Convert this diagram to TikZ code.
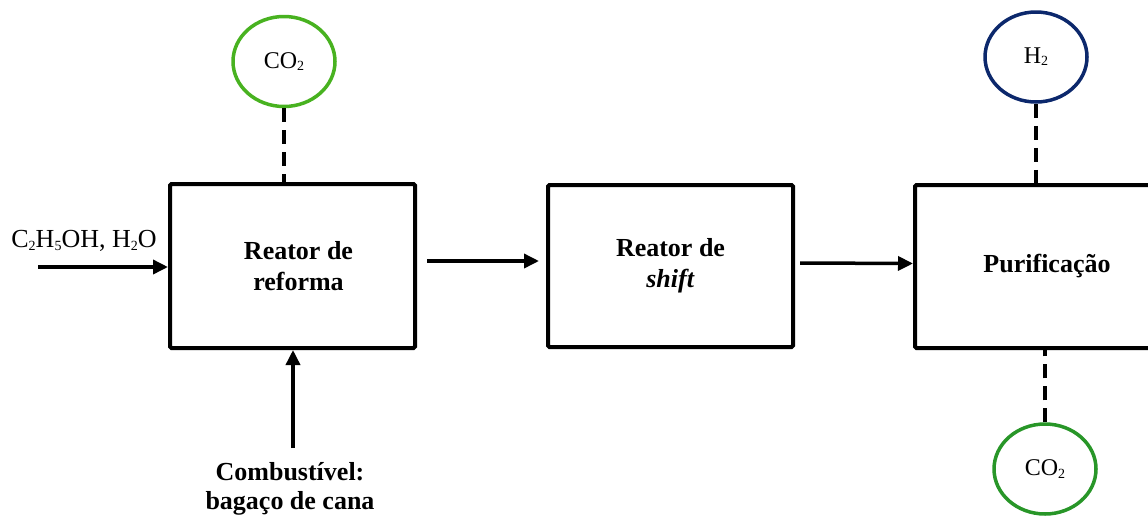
\documentclass[tikz,border=0pt]{standalone}
\usepackage{fontspec}
\setmainfont{Liberation Serif}
\usetikzlibrary{arrows.meta,shapes.geometric}
\definecolor{cogreen}{RGB}{72,178,32}
\definecolor{cogreendk}{RGB}{40,150,40}
\definecolor{hnavy}{RGB}{12,40,108}
\newcommand{\sbs}[1]{\raisebox{-0.2ex}{\fontsize{14}{14}\selectfont #1}}
\tikzset{
  procbox/.style={draw=black, line width=4pt, rounded corners=1.5pt, minimum width=245pt, minimum height=164pt, align=center, font=\fontsize{26}{31}\selectfont\bfseries, inner sep=0pt},
  gasell/.style={ellipse, line width=3.5pt, minimum width=102pt, minimum height=90pt, inner sep=0pt, font=\fontsize{24}{28}\selectfont},
  arr/.style={line width=3.5pt, -{Triangle[length=15pt,width=14pt]}},
  dashln/.style={line width=4pt, dash pattern=on 14pt off 8pt},
  lab/.style={align=center, inner sep=0pt},
}
\begin{document}
\begin{tikzpicture}[x=1pt,y=-1pt]
\useasboundingbox (0,0) rectangle (1148,517);
\clip (0,0) rectangle (1148,517);
% boxes
\node[procbox] (b1) at (292.5,266) {\hspace*{12pt}Reator de\\\hspace*{12pt}reforma};
\node[procbox, minimum height=162pt] (b2) at (670.5,266) {Reator de\\\textit{shift}};
\node[procbox, minimum width=264pt, minimum height=163pt] (b3) at (1047,266.5) {Purificação};
% gas ellipses
\node[gasell, draw=cogreen] (co2a) at (284,61.5) {CO\sbs{2}};
\node[gasell, draw=hnavy] (h2) at (1036,57) {H\sbs{2}};
\node[gasell, draw=cogreendk] (co2b) at (1045,469) {CO\sbs{2}};
% labels
\node[lab, font=\fontsize{26}{30}\selectfont] (feed) at (84,241) {C\sbs{2}H\sbs{5}OH, H\sbs{2}O};
\node[lab, font=\fontsize{26}{29}\selectfont\bfseries, anchor=north] (fuel) at (290,462) {Combustível:\\bagaço de cana};
% free ends
\coordinate (feedin) at (38,267);
\coordinate (fuelin) at (293,448);
% connectors
\draw[arr] (feedin) -- (feedin -| b1.west);
\draw[arr] (fuelin) -- (fuelin |- b1.south);
\draw[arr] ([shift={(10pt,5pt)}]b1.east) -- ([shift={(-7pt,5pt)}]b2.west);
\draw[arr] ([shift={(5pt,3pt)}]b2.east) -- ([yshift=3pt]b3.west);
\draw[dashln] (co2a.south) -- (co2a.south |- b1.north);
\draw[dashln] (h2.south) -- (h2.south |- b3.north);
\draw[dashln] (co2b.north) -- (co2b.north |- b3.south);
\end{tikzpicture}
\end{document}
